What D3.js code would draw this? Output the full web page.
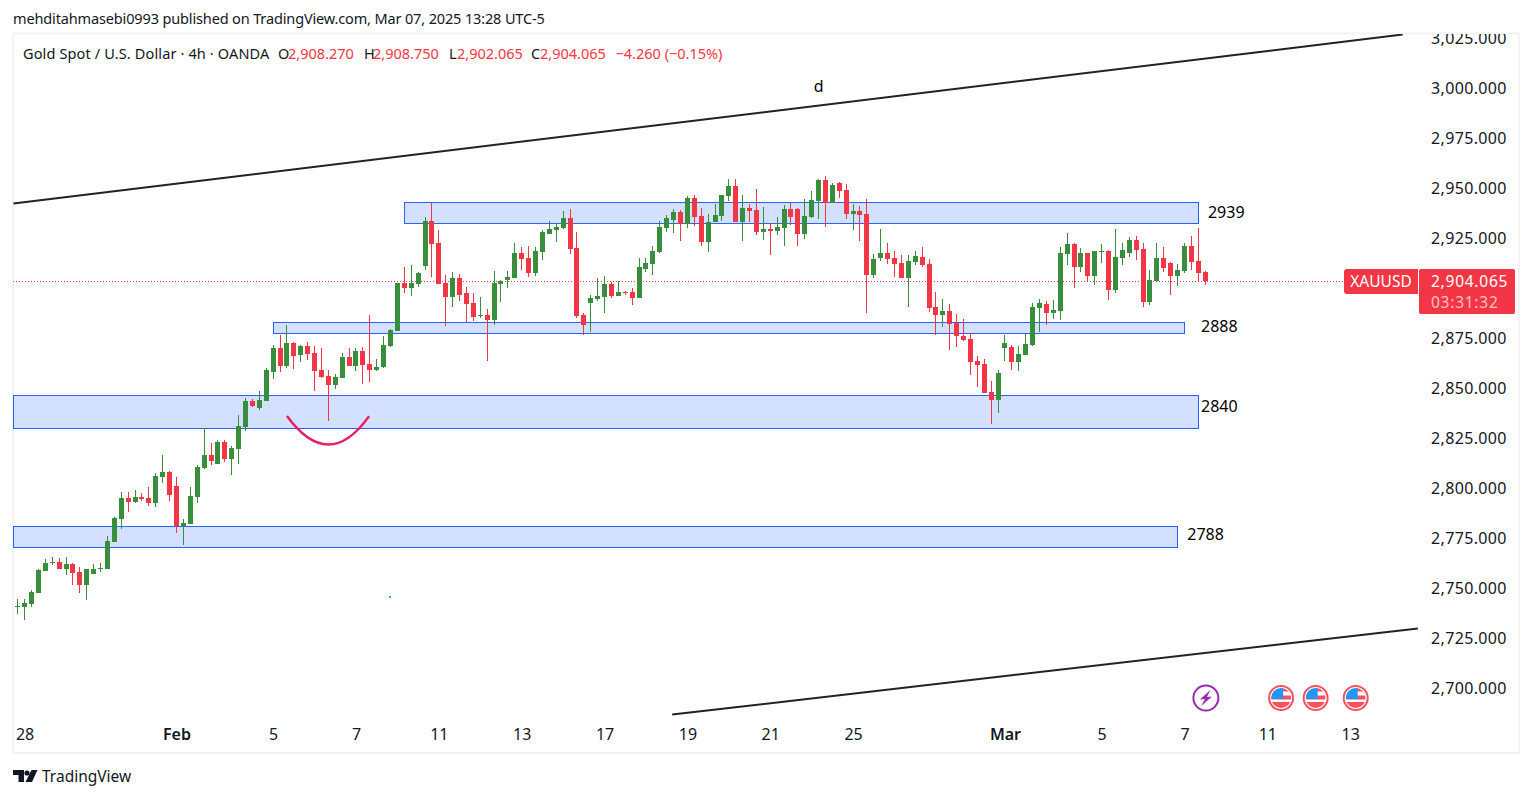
<!DOCTYPE html>
<html>
<head>
<meta charset="utf-8">
<script src="https://cdn.jsdelivr.net/npm/d3@7"></script>
<style>
	html, body { margin: 0; padding: 0; background: #fff; }
	svg { display: block; }
	text { font-family: 'Noto Sans', sans-serif; }
</style>
</head>
<body>
<script>
// candles (4h bars)
const opens = [
	2741.1,2740.9,2742.4,2747.9,2758.9,2762.9,2763.4,2759.9,2762.4,2758.4,
	2751.9,2757.4,2759.9,2759.9,2773.4,2784.9,2795.4,2793.4,2795.9,2795.4,
	2792.9,2805.9,2808.4,2801.4,2781.4,2782.4,2795.9,2810.4,2816.9,2812.4,
	2823.4,2814.9,2819.9,2830.9,2843.9,2840.4,2843.9,2858.4,2870.4,2861.4,
	2872.9,2866.9,2871.4,2867.9,2859.4,2856.4,2851.9,2855.4,2865.9,2861.4,
	2868.9,2862.4,2859.4,2860.9,2871.4,2878.9,2902.9,2900.4,2902.4,2911.4,
	2933.9,2922.9,2902.9,2895.9,2905.4,2897.9,2892.9,2886.4,2886.9,2884.4,
	2902.4,2904.4,2905.4,2917.9,2915.4,2907.9,2918.4,2927.4,2929.4,2930.4,
	2935.4,2920.4,2886.9,2892.9,2894.9,2895.9,2902.4,2896.4,2898.4,2898.4,
	2895.4,2909.9,2912.4,2918.4,2930.4,2934.4,2938.4,2932.4,2945.4,2936.4,
	2923.4,2933.4,2936.4,2946.4,2951.4,2933.4,2940.4,2939.4,2928.4,2929.9,
	2928.9,2930.4,2939.9,2939.9,2927.4,2935.9,2943.9,2954.4,2942.9,2952.9,
	2949.4,2937.4,2938.9,2937.4,2906.9,2915.4,2917.9,2915.4,2912.9,2905.4,
	2913.4,2915.9,2912.4,2890.9,2886.9,2888.9,2882.9,2876.4,2874.9,2863.9,
	2862.4,2848.4,2844.4,2870.4,2870.9,2863.4,2866.9,2871.9,2890.4,2892.4,
	2887.9,2888.9,2917.4,2922.4,2910.9,2917.9,2906.4,2918.4,2918.9,2899.4,
	2915.4,2917.9,2924.4,2919.9,2893.4,2903.9,2915.4,2912.9,2906.4,2908.9,
	2921.4,2913.9,2908.27
];
const highs = [
	2744.9,2744.9,2749.4,2759.9,2764.9,2765.9,2765.4,2765.9,2762.9,2760.9,
	2759.9,2762.4,2762.9,2776.4,2785.9,2798.4,2798.4,2799.4,2797.9,2800.9,
	2807.9,2816.9,2808.9,2805.9,2784.9,2800.9,2811.9,2830.2,2822.9,2824.4,
	2824.4,2821.4,2836.9,2845.4,2844.9,2848.9,2860.4,2871.9,2876.9,2881.9,
	2873.4,2871.9,2873.4,2871.4,2870.4,2859.4,2857.4,2867.9,2870.4,2870.4,
	2870.9,2886.9,2864.9,2876.4,2879.9,2902.9,2910.9,2911.9,2908.4,2935.9,
	2942.9,2929.4,2906.9,2908.4,2907.4,2900.9,2897.9,2895.9,2889.9,2908.9,
	2904.4,2908.9,2922.9,2920.9,2921.4,2920.9,2929.4,2933.9,2932.4,2938.9,
	2939.9,2928.4,2887.9,2896.9,2905.4,2906.4,2903.4,2903.9,2898.9,2900.4,
	2915.4,2915.4,2921.4,2933.9,2936.9,2939.9,2939.4,2946.4,2946.9,2940.4,
	2937.4,2942.4,2946.9,2954.9,2954.9,2946.9,2942.4,2949.9,2940.9,2932.9,
	2935.9,2941.9,2942.9,2940.4,2944.9,2948.9,2954.9,2956.4,2952.9,2953.4,
	2952.4,2942.4,2941.4,2944.9,2917.4,2929.9,2922.9,2918.9,2916.9,2916.9,
	2918.9,2920.9,2914.9,2898.4,2894.9,2892.4,2887.4,2884.9,2877.9,2866.4,
	2864.9,2853.9,2859.4,2876.9,2871.9,2871.4,2877.4,2892.9,2894.9,2893.9,
	2894.4,2920.9,2927.9,2922.9,2920.4,2917.9,2918.9,2922.4,2919.4,2929.9,
	2922.9,2925.9,2926.4,2922.9,2909.4,2922.9,2920.9,2913.4,2912.4,2922.9,
	2926.4,2930.4,2908.75
];
const lows = [
	2737.4,2734.4,2740.9,2747.9,2758.9,2761.9,2759.9,2756.9,2751.9,2747.9,
	2744.4,2757.4,2758.4,2759.9,2773.4,2779.9,2788.4,2792.9,2793.9,2791.4,
	2790.9,2802.9,2793.9,2777.9,2771.9,2782.4,2792.9,2809.9,2811.9,2812.4,
	2813.4,2806.9,2812.4,2828.9,2840.9,2839.4,2843.9,2854.9,2858.4,2860.4,
	2859.9,2863.4,2864.4,2848.9,2855.4,2833.9,2849.9,2855.4,2861.4,2858.9,
	2852.4,2853.4,2858.9,2860.4,2870.9,2878.9,2897.9,2896.4,2900.9,2909.4,
	2905.9,2902.4,2881.4,2890.9,2893.9,2883.4,2883.9,2885.4,2863.9,2881.9,
	2893.4,2900.4,2905.4,2909.4,2905.9,2906.4,2914.4,2927.4,2923.4,2929.9,
	2917.4,2885.4,2876.9,2878.4,2893.9,2887.9,2895.4,2896.4,2896.9,2891.9,
	2895.4,2908.4,2906.9,2917.9,2928.4,2927.9,2923.9,2930.4,2931.4,2921.4,
	2918.4,2933.4,2933.9,2943.9,2933.4,2923.9,2933.4,2926.9,2924.4,2916.9,
	2926.9,2921.4,2931.9,2921.4,2924.9,2935.4,2934.9,2930.9,2942.9,2945.4,
	2934.9,2929.4,2923.9,2887.9,2905.4,2913.9,2912.4,2905.9,2905.4,2890.9,
	2911.9,2910.9,2888.4,2876.9,2880.9,2869.4,2870.9,2873.9,2856.9,2850.9,
	2847.9,2832.4,2837.9,2863.9,2859.4,2858.9,2866.9,2871.4,2878.4,2881.9,
	2884.9,2884.4,2911.9,2900.4,2908.4,2903.4,2901.9,2912.9,2894.4,2897.9,
	2911.9,2915.9,2914.4,2890.9,2891.9,2903.9,2908.4,2896.9,2901.4,2907.9,
	2909.4,2903.4,2902.065
];
const closes = [
	2741.4,2742.9,2748.4,2759.4,2762.9,2763.4,2759.9,2762.4,2757.9,2751.9,
	2759.9,2759.9,2760.4,2773.9,2785.4,2795.4,2793.4,2795.9,2794.9,2792.9,
	2806.4,2808.4,2796.9,2781.4,2782.9,2796.4,2810.9,2816.9,2813.9,2823.4,
	2814.9,2820.4,2831.4,2843.9,2841.4,2844.4,2859.4,2870.4,2861.4,2872.9,
	2866.4,2871.4,2867.4,2858.9,2855.9,2851.9,2855.9,2865.9,2861.4,2868.9,
	2861.9,2859.4,2860.9,2871.9,2879.4,2902.9,2900.4,2902.9,2907.9,2933.9,
	2922.4,2902.4,2895.9,2905.4,2896.9,2892.4,2885.9,2886.9,2884.4,2902.9,
	2903.9,2905.9,2917.9,2914.9,2907.9,2918.9,2928.4,2929.9,2930.9,2935.4,
	2919.9,2886.4,2881.9,2895.4,2896.4,2902.4,2896.4,2898.4,2897.9,2895.4,
	2910.9,2912.9,2918.9,2930.9,2935.4,2938.4,2932.4,2945.4,2935.9,2923.4,
	2933.4,2936.9,2946.9,2951.4,2933.4,2940.4,2938.9,2928.4,2929.9,2928.9,
	2930.9,2939.9,2935.9,2927.4,2936.4,2944.4,2954.4,2942.9,2951.9,2948.9,
	2937.4,2938.9,2936.9,2906.9,2914.9,2917.9,2914.9,2912.4,2905.4,2913.9,
	2916.4,2911.9,2890.4,2886.9,2888.9,2882.4,2876.4,2874.4,2863.4,2861.9,
	2847.9,2844.4,2857.9,2872.9,2863.4,2867.4,2872.4,2890.9,2892.9,2887.9,
	2889.4,2917.9,2922.4,2910.9,2917.9,2906.4,2918.9,2918.9,2899.4,2915.9,
	2919.4,2924.4,2919.4,2893.4,2904.4,2915.4,2910.4,2906.4,2909.4,2921.4,
	2913.4,2907.9,2904.065
];

// 2,900 sits behind the last price label in the original, so it is left out
const priceTicks = [2700,2725,2750,2775,2800,2825,2850,2875,2925,2950,2975,3000,3025];
const timeTickBars = [1,23,37,49,61,73,85,97,109,121,143,157,169,181,193];
const timeTickLabels = ['28','Feb','5','7','11','13','17','19','21','25','Mar','5','7','11','13'];

// drawings: bar index / price pairs
const trendLines = [
	[[-0.62,2942.9],[200.6,3027.4]],
	[[94.8,2687.4],[202.8,2730.4]]
];
const zoneLabels = ['2939','2888','2840','2788'];
const zoneFrom = [56.05,37.06,-0.62,-0.62];
const zoneTo = [171,169,171,168];
const zoneTop = [2943.2,2883.2,2846.7,2781.2];
const zoneBottom = [2932.7,2878,2830.2,2770.7];
const labelBars = [172.4,171.4,171.4,169.4];
const labelPrices = [2938.9,2881.9,2841.9,2777.9];
const eventBars = [183,188,193.8];

const lastPrice = 2904.065;
const upColor = '#388e3c';
const downColor = '#f23645';
const textColor = '#131722';

const pane = { left: 13, right: 1419, top: 34, bottom: 752 };

const xScale = d3.scaleLinear().domain([0,172]).range([17.7,1205.19]);
const yScale = d3.scaleLinear().domain([3044.4,2700]).range([0.5,689.3]);
const px = v => Math.floor(v);

const svg = d3.select('body').append('svg').attr('width',1533).attr('height',798);

svg.append('rect').attr('width',1533).attr('height',798).attr('fill','#fff');

// frame
svg.append('rect')
	.attr('x',13).attr('y',33.5).attr('width',1506).attr('height',719.5)
	.attr('fill','none').attr('stroke','#f3f3f3').attr('stroke-width',2);

svg.append('defs').append('clipPath').attr('id','paneClip').append('rect')
	.attr('x',pane.left).attr('y',pane.top)
	.attr('width',pane.right - pane.left).attr('height',pane.bottom - pane.top);
svg.select('defs').append('clipPath').attr('id','axisClip').append('rect')
	.attr('x',pane.right).attr('y',pane.top)
	.attr('width',100).attr('height',pane.bottom - pane.top);

// header
svg.append('text').attr('x',13).attr('y',24).attr('font-size',14.5).attr('letter-spacing',-0.14).attr('fill',textColor)
	.text('mehditahmasebi0993 published on TradingView.com, Mar 07, 2025 13:28 UTC-5');

const legend = svg.append('text').attr('x',23).attr('y',59).attr('font-size',14.5).attr('fill',textColor);
legend.append('tspan').attr('letter-spacing',0.14).text('Gold Spot / U.S. Dollar · 4h · OANDA');
legend.append('tspan').attr('x',278).text('O');
legend.append('tspan').attr('x',288).attr('fill',downColor).text('2,908.270');
legend.append('tspan').attr('x',364).text('H');
legend.append('tspan').attr('x',373).attr('fill',downColor).text('2,908.750');
legend.append('tspan').attr('x',449).text('L');
legend.append('tspan').attr('x',457).attr('fill',downColor).text('2,902.065');
legend.append('tspan').attr('x',531).text('C');
legend.append('tspan').attr('x',540).attr('fill',downColor).text('2,904.065');
legend.append('tspan').attr('x',615.5).attr('fill',downColor).text('−4.260 (−0.15%)');

const chart = svg.append('g').attr('clip-path','url(#paneClip)');

// last price line
chart.append('line')
	.attr('x1',pane.left).attr('x2',1345)
	.attr('y1',px(yScale(lastPrice)) + 0.5).attr('y2',px(yScale(lastPrice)) + 0.5)
	.attr('stroke',downColor).attr('stroke-width',1).attr('stroke-dasharray','1 2');

// zones
chart.append('g').selectAll('rect')
	.data(zoneLabels)
	.enter()
	.append('rect')
	.attr('x',(d,i) => px(xScale(zoneFrom[i])) + 0.5)
	.attr('y',(d,i) => px(yScale(zoneTop[i])) + 0.5)
	.attr('width',(d,i) => px(xScale(zoneTo[i])) - px(xScale(zoneFrom[i])))
	.attr('height',(d,i) => px(yScale(zoneBottom[i])) - px(yScale(zoneTop[i])))
	.attr('fill','rgba(41,98,255,0.2)')
	.attr('stroke','#2962ff')
	.attr('stroke-width',1);

// candles
const candles = chart.append('g').selectAll('g')
	.data(opens)
	.enter()
	.append('g')
	.attr('fill',(d,i) => closes[i] >= d ? upColor : downColor);

candles.append('rect')
	.attr('x',(d,i) => px(xScale(i)))
	.attr('width',1)
	.attr('y',(d,i) => px(yScale(highs[i])))
	.attr('height',(d,i) => px(yScale(lows[i])) - px(yScale(highs[i])));

candles.append('rect')
	.attr('x',(d,i) => px(xScale(i)) - 2)
	.attr('width',5)
	.attr('y',(d,i) => px(yScale(Math.max(d,closes[i]))))
	.attr('height',(d,i) => Math.max(1,px(yScale(Math.min(d,closes[i]))) - px(yScale(Math.max(d,closes[i])))));

// trend lines
const lineFn = d3.line().x(d => xScale(d[0])).y(d => yScale(d[1]));
chart.append('g').selectAll('path')
	.data(trendLines)
	.enter()
	.append('path')
	.attr('d',lineFn)
	.attr('fill','none')
	.attr('stroke','#1e222d')
	.attr('stroke-width',2);

// the smile under the february low
const arc = d3.path();
arc.moveTo(xScale(39),yScale(2836.6));
arc.quadraticCurveTo(xScale(45.03),yScale(2808.1),xScale(50.9),yScale(2836.6));
chart.append('path').attr('d',arc.toString())
	.attr('fill','none').attr('stroke','#e91e63').attr('stroke-width',2.5);

// stray marker
chart.append('rect')
	.attr('x',px(xScale(53.9))).attr('y',px(yScale(2746.3))).attr('width',2).attr('height',2)
	.attr('fill','#00bcd4');

// drawing labels
chart.append('g').selectAll('text')
	.data(zoneLabels)
	.enter()
	.append('text')
	.attr('x',(d,i) => xScale(labelBars[i]))
	.attr('y',(d,i) => yScale(labelPrices[i]))
	.attr('font-size',16)
	.attr('fill','#000')
	.attr('dominant-baseline','central')
	.text(d => d);
chart.append('text')
	.attr('x',xScale(116)).attr('y',yScale(3001.5))
	.attr('text-anchor','middle').attr('dominant-baseline','central')
	.attr('font-size',16).attr('fill','#000').text('d');

// events
const eventY = yScale(2695.4) - 0.5;
const lightning = chart.append('g').attr('transform','translate(' + xScale(172.1) + ',' + eventY + ')');
lightning.append('circle').attr('r',12.5).attr('fill','#fff').attr('stroke','#9c27b0').attr('stroke-width',2);
lightning.append('path').attr('d','M4.5 -8 L-6 1.5 L-1 1 L-4.5 8 L6 -1.5 L1 -1 Z').attr('fill','#9c27b0');

eventBars.forEach((bar,i) => {
	const flag = chart.append('g').attr('transform','translate(' + xScale(bar) + ',' + eventY + ')');
	flag.append('clipPath').attr('id','flagClip' + i).append('circle').attr('r',10);
	flag.append('circle').attr('r',13).attr('fill','#f7525f');
	flag.append('circle').attr('r',11).attr('fill','#fff');
	const inner = flag.append('g').attr('clip-path','url(#flagClip' + i + ')');
	inner.append('rect').attr('x',-10).attr('y',-2.5).attr('width',20).attr('height',4).attr('fill','#f7525f');
	inner.append('rect').attr('x',-10).attr('y',4).attr('width',20).attr('height',6).attr('fill','#f7525f');
	inner.append('rect').attr('x',0).attr('y',-10).attr('width',10).attr('height',3.5).attr('fill','#f7525f');
	inner.append('rect').attr('x',-10).attr('y',-10).attr('width',12).attr('height',11).attr('fill','#2196f3');
});

// price axis, clipped at the frame like the original
const yAxis = d3.axisRight(yScale)
	.tickValues(priceTicks)
	.tickSize(0)
	.tickFormat(d3.format(',.3f'));
svg.append('g')
	.attr('clip-path','url(#axisClip)')
	.append('g')
	.attr('transform','translate(1431,-1.4)')
	.call(yAxis)
	.call(g => g.select('.domain').remove())
	.selectAll('text')
	.attr('x',0)
	.attr('font-family',"'Noto Sans', sans-serif")
	.attr('font-size',16)
	.attr('letter-spacing',0.35)
	.attr('fill',textColor);

// time axis
const xAxis = d3.axisBottom(xScale)
	.tickValues(timeTickBars)
	.tickSize(0)
	.tickFormat((d,i) => timeTickLabels[i]);
svg.append('g')
	.attr('transform','translate(0,724.5)')
	.call(xAxis)
	.call(g => g.select('.domain').remove())
	.selectAll('text')
	.attr('y',4)
	.attr('font-family',"'Noto Sans', sans-serif")
	.attr('font-size',16)
	.attr('font-weight',(d,i) => /[A-Z]/.test(timeTickLabels[i]) ? 600 : 400)
	.attr('fill',textColor);

// last price labels
const labelY = yScale(lastPrice);
svg.append('path')
	.attr('d','M1418 269 H1347 Q1344 269 1344 272 V291 Q1344 294 1347 294 H1418 Z')
	.attr('fill',downColor);
svg.append('text').attr('x',1381).attr('y',labelY).attr('text-anchor','middle')
	.attr('dominant-baseline','central').attr('font-size',15.5).attr('fill','#fff').text('XAUUSD');
svg.append('rect').attr('x',1419).attr('y',269).attr('width',96).attr('height',45).attr('rx',2).attr('fill',downColor);
svg.append('text').attr('x',1431).attr('y',labelY - 0.5).attr('dominant-baseline','central')
	.attr('font-size',15.5).attr('letter-spacing',0.75).attr('fill','#fff').text(d3.format(',.3f')(lastPrice));
svg.append('text').attr('x',1431).attr('y',labelY + 20.8).attr('dominant-baseline','central')
	.attr('font-size',15.5).attr('letter-spacing',0.75).attr('fill','rgba(255,255,255,0.7)').text('03:31:32');

// footer logo
const logo = svg.append('g').attr('fill','#131722');
logo.append('path').attr('d','M13 770 H24 V782 H18.5 V775 H13 Z');
logo.append('circle').attr('cx',27).attr('cy',773).attr('r',2.6);
logo.append('path').attr('d','M31.5 770 H37.5 L32 782 H25.5 Z');
svg.append('text').attr('x',42).attr('y',782).attr('font-size',15.5).attr('fill','#131722').text('TradingView');
</script>
</body>
</html>
